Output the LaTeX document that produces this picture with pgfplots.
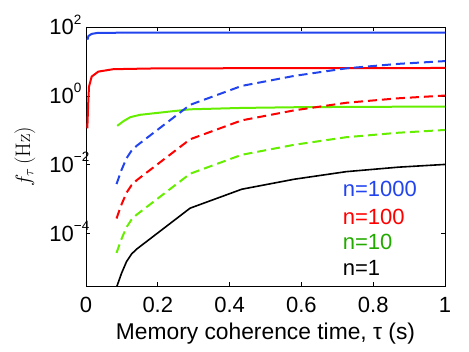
\documentclass[border=0pt]{standalone}
\usepackage[no-math]{fontspec}
\setmainfont{Liberation Sans}
\newfontfamily\lmr{Latin Modern Roman}
\usepackage{pgfplots}
\pgfplotsset{compat=1.18}
\definecolor{cblue}{HTML}{2244EE}
\definecolor{cred}{HTML}{FF0000}
\definecolor{cgreen}{HTML}{66EE00}
\definecolor{cgreentxt}{HTML}{22AA00}
\newcommand\bigf{\fontsize{22}{26}\selectfont}
% MATLAB-like 10^k: base right aligned, exponent hanging out
\newcommand\tl[1]{10\rlap{\smash{\raisebox{10.5pt}{\fontsize{13.5}{14}\selectfont #1}}}}

\begin{document}
\begin{tikzpicture}
\begin{axis}[
  at={(0,0)}, anchor=south west,
  scale only axis, width=359pt, height=259pt,
  ymode=log,
  xmin=0, xmax=1, ymin=3.02e-6, ymax=100,
  xtick={0,0.2,0.4,0.6,0.8,1},
  xticklabels={0,0.2,0.4,0.6,0.8,1},
  ytick={1e-4,1e-2,1,100},
  yticklabels={\tl{−4},\tl{−2},\tl{0},\tl{2}},
  yminorticks=false,
  tick align=inside,
  major tick length=4pt,
  tick style={black, line width=0.6pt},
  axis line style={black, line width=0.8pt},
  ticklabel style={font=\bigf},
  xticklabel style={yshift=-8pt},
  yticklabel style={anchor=east, xshift=-8.5pt},
  xlabel={Memory coherence time, τ (s)},
  xlabel style={font=\fontsize{22.8}{26}\selectfont, yshift=-3pt},
  ylabel={$f_\tau$\,{\lmr(Hz)}},
  ylabel style={font=\fontsize{21}{24}\selectfont, at={(axis description cs:-0.17,0.5)}, anchor=center},
  clip=true,
]
% n=1000 solid
\addplot[cblue, line width=2pt] coordinates {
  (0.004,42.7) (0.007,55.0) (0.016,63.1) (0.033,67.6) (0.2,69.2) (1,69.2)
};
% n=100 solid
\addplot[cred, line width=2pt] coordinates {
  (0.0037,0.1148) (0.0065,0.759) (0.0084,1.862) (0.0158,3.631) (0.0343,5.070)
  (0.076,5.957) (0.206,6.310) (1,6.457)
};
% n=10 solid
\addplot[cgreen, line width=2pt] coordinates {
  (0.087,0.1349) (0.105,0.1862) (0.123,0.2399) (0.15,0.2818) (0.29,0.4074)
  (0.434,0.4467) (0.58,0.4677) (0.725,0.4786) (0.87,0.4842) (1,0.4898)
};
% n=1000 dashed
\addplot[cblue, line width=2pt, dash pattern=on 9pt off 5pt] coordinates {
  (0.085,2.754e-3) (0.099,7.079e-3) (0.113,1.549e-2) (0.127,2.570e-2) (0.141,3.548e-2)
  (0.29,0.5495) (0.434,1.950) (0.58,3.802) (0.725,6.310) (0.87,8.511) (1,10.23)
};
% n=100 dashed
\addplot[cred, line width=2pt, dash pattern=on 9pt off 5pt] coordinates {
  (0.085,2.754e-4) (0.099,7.079e-4) (0.113,1.549e-3) (0.127,2.570e-3) (0.141,3.548e-3)
  (0.29,5.495e-2) (0.434,0.1950) (0.58,0.3802) (0.725,0.6310) (0.87,0.8511) (1,1.023)
};
% n=10 dashed
\addplot[cgreen, line width=2pt, dash pattern=on 9pt off 5pt] coordinates {
  (0.085,2.754e-5) (0.099,7.079e-5) (0.113,1.549e-4) (0.127,2.570e-4) (0.141,3.548e-4)
  (0.29,5.495e-3) (0.434,1.950e-2) (0.58,3.802e-2) (0.725,6.310e-2) (0.87,8.511e-2) (1,0.1023)
};
% n=1
\addplot[black, line width=1.6pt] coordinates {
  (0.085,2.754e-6) (0.099,7.079e-6) (0.113,1.549e-5) (0.127,2.570e-5) (0.141,3.548e-5)
  (0.29,5.495e-4) (0.434,1.950e-3) (0.58,3.802e-3) (0.725,6.310e-3) (0.87,8.511e-3) (1,1.023e-2)
};
\node[anchor=west, inner sep=0pt, text=cblue, font=\bigf] at (rel axis cs:0.715,0.3745) {n=1000};
\node[anchor=west, inner sep=0pt, text=cred, font=\bigf] at (rel axis cs:0.715,0.2676) {n=100};
\node[anchor=west, inner sep=0pt, text=cgreentxt, font=\bigf] at (rel axis cs:0.715,0.170) {n=10};
\node[anchor=west, inner sep=0pt, text=black, font=\bigf] at (rel axis cs:0.715,0.068) {n=1};
\end{axis}
\path[use as bounding box] (-86pt,-66pt) rectangle (383pt,286pt);
\end{tikzpicture}
\end{document}
